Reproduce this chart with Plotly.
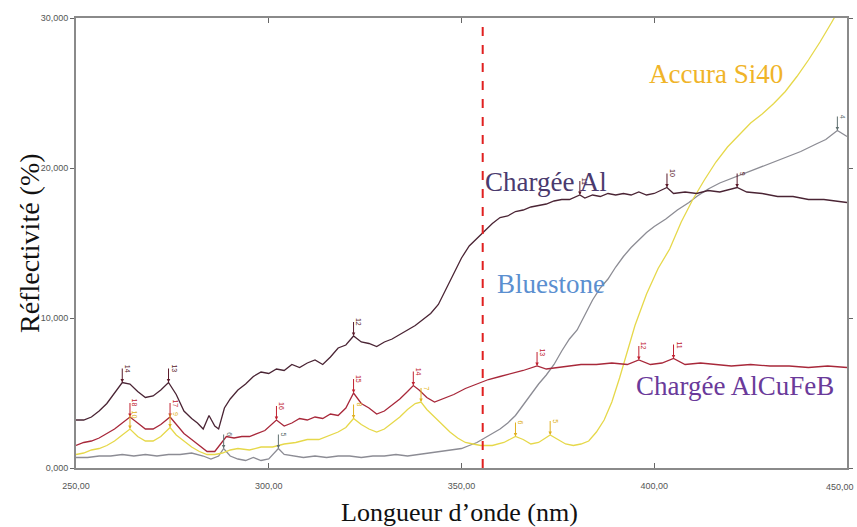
import numpy as np
import plotly.graph_objects as go

# ---------------- data ----------------
al_x = [250, 252, 254, 256, 258, 260, 262, 264, 266, 268, 270, 272, 274, 276, 278, 280, 281.5, 283, 284.5, 286, 287,
        288.5, 290, 292, 294, 296, 298, 300, 302, 304, 306, 308, 310, 312, 314, 316, 318, 320, 322, 324, 326, 328, 330,
        332, 334, 336, 338, 340, 342, 344, 346, 348, 350, 352, 354, 356, 358, 360, 362, 364, 366, 368, 370, 372, 374,
        376, 378, 380.7, 382, 384, 386, 388, 390, 392, 394, 396, 398, 400, 403.3, 405, 408, 411, 414, 417, 421.5, 424,
        428, 432, 436, 440, 444, 447, 450]
al_y = [3.2, 3.2, 3.4, 3.8, 4.3, 5.0, 5.7, 5.6, 5.1, 4.7, 4.8, 5.2, 5.7, 4.9, 3.8, 3.3, 3.0, 2.6, 3.5, 2.8, 2.6,
        4.0, 4.6, 5.2, 5.6, 6.1, 6.4, 6.3, 6.6, 6.5, 6.9, 6.7, 7.0, 7.2, 6.9, 7.4, 8.0, 8.2, 8.8, 8.4, 8.3, 8.1, 8.4,
        8.6, 8.9, 9.2, 9.5, 9.9, 10.3, 10.9, 11.9, 13.0, 14.0, 14.8, 15.3, 15.8, 16.3, 16.7, 16.8, 17.1, 17.2, 17.4,
        17.5, 17.6, 17.8, 17.9, 17.9, 18.2, 18.0, 18.2, 18.1, 18.3, 18.2, 18.3, 18.2, 18.4, 18.2, 18.3, 18.7, 18.3,
        18.4, 18.3, 18.5, 18.4, 18.7, 18.4, 18.3, 18.1, 18.1, 17.9, 17.9, 17.8, 17.7]

cu_x = [250, 252, 254, 256, 258, 260, 262, 264, 266, 268, 270, 272, 274.4, 276, 278, 280, 282, 284, 286, 287.5, 289,
        291, 293, 295, 297, 299, 302, 304, 306, 308, 310, 312, 314, 316, 318, 320, 322, 324, 326, 328, 330, 332, 334,
        336, 337.5, 339, 341, 343, 345, 348, 351, 354, 357, 360, 363, 366, 369.6, 372, 375, 378, 381, 385, 389, 393,
        396, 399, 402, 405, 408, 412, 416, 420, 425, 430, 435, 440, 445, 450]
cu_y = [1.5, 1.7, 1.8, 2.0, 2.3, 2.6, 3.0, 3.4, 3.0, 2.6, 2.6, 2.9, 3.4, 2.9, 2.3, 1.9, 1.5, 1.1, 1.1, 1.6, 2.1,
        2.0, 2.1, 2.1, 2.3, 2.5, 3.2, 2.8, 3.0, 3.3, 3.2, 3.4, 3.3, 3.6, 3.5, 4.0, 5.0, 4.3, 4.0, 3.6, 3.8, 4.2, 4.6,
        5.1, 5.5, 5.2, 4.7, 4.4, 4.6, 4.9, 5.3, 5.6, 5.9, 6.1, 6.3, 6.5, 6.8, 6.6, 6.7, 6.8, 6.9, 6.9, 7.0, 6.9,
        7.2, 6.9, 7.0, 7.3, 6.9, 7.0, 6.9, 6.8, 6.9, 6.8, 6.8, 6.7, 6.8, 6.7]

ac_x = [250, 252, 254, 256, 258, 260, 262, 264, 266, 268, 270, 272, 274.4, 276, 278, 280, 282, 284, 286, 288, 290,
        292, 295, 298, 301, 304, 307, 310, 313, 316, 318, 320, 322, 324, 326, 328, 330, 332, 334, 336, 338, 339.5,
        341, 343, 345, 347, 349, 351, 353, 355, 358, 361, 364, 366, 368, 370, 373, 375, 377, 379, 381, 383, 385, 387,
        389, 391, 393, 395, 398, 401, 404, 407, 410, 413, 416, 419, 422, 425, 428, 431, 434, 437, 440, 443, 446, 448]
ac_y = [0.9, 1.0, 1.2, 1.3, 1.5, 1.8, 2.2, 2.6, 2.1, 1.8, 1.8, 2.1, 2.7, 2.2, 1.8, 1.4, 1.1, 0.9, 0.9, 1.0, 1.2,
        1.3, 1.2, 1.4, 1.4, 1.6, 1.7, 1.9, 1.9, 2.2, 2.4, 2.7, 3.3, 2.9, 2.6, 2.4, 2.6, 3.0, 3.4, 3.9, 4.3, 4.4,
        3.9, 3.4, 2.9, 2.4, 2.0, 1.7, 1.6, 1.5, 1.5, 1.7, 2.1, 1.9, 1.6, 1.7, 2.2, 1.9, 1.6, 1.5, 1.6, 1.8, 2.4, 3.2,
        4.4, 6.0, 7.8, 9.5, 11.6, 13.3, 14.6, 16.4, 17.9, 19.2, 20.4, 21.4, 22.2, 23.0, 23.6, 24.3, 25.1, 26.1, 27.2,
        28.4, 29.7, 30.6]

bl_x = [250, 253, 256, 259, 262, 265, 268, 271, 274, 277, 280, 283, 285, 287, 288.3, 290, 292, 294, 296, 298, 300,
        302.5, 304, 306, 309, 312, 315, 318, 321, 324, 327, 330, 333, 336, 339, 342, 345, 348, 350, 352, 354, 356,
        358, 360, 362, 364, 366, 368, 370, 372, 374, 376, 378, 380, 382, 384, 386, 388, 390, 392, 394, 396, 398, 400,
        403, 406, 409, 411, 414, 417, 421, 425, 429, 434, 438, 442, 444.5, 447.5, 450]
bl_y = [0.7, 0.7, 0.8, 0.8, 0.9, 0.8, 0.9, 0.8, 0.9, 0.9, 1.0, 0.8, 0.6, 0.8, 1.3, 0.8, 0.6, 0.5, 0.7, 0.5, 0.6,
        1.3, 0.9, 0.8, 0.7, 0.8, 0.7, 0.8, 0.8, 0.7, 0.8, 0.8, 0.9, 0.8, 0.9, 1.0, 1.1, 1.2, 1.3, 1.5, 1.7, 2.0,
        2.3, 2.6, 3.0, 3.5, 4.2, 4.9, 5.6, 6.2, 6.9, 7.8, 8.6, 9.2, 10.2, 11.2, 12.0, 12.6, 13.4, 14.1, 14.7, 15.2,
        15.7, 16.1, 16.6, 17.2, 17.7, 18.1, 18.6, 19.0, 19.4, 19.8, 20.2, 20.7, 21.1, 21.6, 21.9, 22.5, 22.1]

dash_x = 355.5

# peak markers: (wavelength, label)
peaks_al = [(262, "14"), (274, "13"), (322, "12"), (380.7, "11"), (403.3, "10"), (421.5, "9")]
peaks_cu = [(264, "18"), (274.4, "17"), (302, "16"), (322, "15"), (337.5, "14"), (369.6, "13"), (396, "12"), (405, "11")]
peaks_ac = [(264, "10"), (274.4, "9"), (322, "8"), (339.5, "7"), (364, "6"), (373, "5")]
peaks_bl = [(288.3, "6"), (302.5, "5"), (447.5, "4")]

x_ticks = [250, 300, 350, 400, 450]
x_ticktext = ["250,00", "300,00", "350,00", "400,00", "450,00"]
y_ticks = [0, 10, 20, 30]
y_ticktext = ["0,000", "10,000", "20,000", "30,000"]

C_AL = "#4a2434"
C_CU = "#a8283a"
C_AC = "#e6d84a"
C_BL = "#8c8c94"
TICK_FONT = dict(size=9, color="#555", family="Liberation Sans")

fig = go.Figure()
for xs, ys, col, name in [(bl_x, bl_y, C_BL, "Bluestone"), (ac_x, ac_y, C_AC, "Accura Si40"),
                          (cu_x, cu_y, C_CU, "Chargée AlCuFeB"), (al_x, al_y, C_AL, "Chargée Al")]:
    fig.add_trace(go.Scatter(x=xs, y=ys, mode="lines", line=dict(color=col, width=1.3), name=name,
                             showlegend=False, hoverinfo="skip"))

fig.add_shape(type="line", x0=dash_x, x1=dash_x, y0=0, y1=1, xref="x", yref="paper",
              line=dict(color="#e02020", width=2, dash="dash"))

anns = []
def add_peaks(peaks, xs, ys, col):
    for px, lab in peaks:
        py = float(np.interp(px, xs, ys))
        anns.append(dict(x=px, y=py, xref="x", yref="y", text=lab, textangle=90, showarrow=True,
                         ax=0, ay=-14, arrowhead=2, arrowsize=0.7, arrowwidth=1, arrowcolor=col,
                         font=dict(size=7, color=col, family="Liberation Sans"), yanchor="bottom"))

add_peaks(peaks_al, al_x, al_y, "#5a1a2a")
add_peaks(peaks_cu, cu_x, cu_y, "#c02030")
add_peaks(peaks_ac, ac_x, ac_y, "#e0b020")
add_peaks(peaks_bl, bl_x, bl_y, "#607070")

labels = [("Chargée Al", 371.9, 19.1, "#4a3a6e"), ("Bluestone", 373.3, 12.3, "#5b8fd0"),
          ("Accura Si40", 416.0, 26.3, "#f0b428"), ("Chargée AlCuFeB", 421, 5.5, "#6a3a9a")]
for t, x, y, c in labels:
    anns.append(dict(x=x, y=y, xref="x", yref="y", text=t, showarrow=False,
                     font=dict(size=27, color=c, family="Liberation Serif")))

# last x tick label, kept inside the page
anns.append(dict(x=x_ticks[-1], y=0, xref="x", yref="paper", text=x_ticktext[-1], showarrow=False,
                 xanchor="right", yanchor="middle", xshift=9, yshift=-19, font=TICK_FONT))

# axis titles
anns.append(dict(x=0, y=0.5, xref="paper", yref="paper", xshift=-47, xanchor="center", yanchor="middle",
                 text="Réflectivité (%)", textangle=-90,
                 showarrow=False, font=dict(size=28, color="#111", family="Liberation Serif")))
anns.append(dict(x=0.498, y=0, xref="paper", yref="paper", yshift=-44, xanchor="center", yanchor="middle",
                 text="Longueur d’onde (nm)",
                 showarrow=False, font=dict(size=26, color="#111", family="Liberation Serif")))

fig.update_layout(
    width=857, height=527,
    margin=dict(l=76, r=10, t=18, b=59),
    paper_bgcolor="white", plot_bgcolor="white",
    annotations=anns,
    showlegend=False,
    xaxis=dict(range=[250, 450], tickvals=x_ticks[:-1], ticktext=x_ticktext[:-1], showgrid=False, zeroline=False,
               automargin=False, ticklabelstandoff=8,
               showline=True, linecolor="#8a8a8a", linewidth=2, mirror="ticks", ticks="inside", ticklen=5,
               tickcolor="#666", tickfont=TICK_FONT),
    yaxis=dict(range=[0, 30], tickvals=y_ticks, ticktext=y_ticktext, showgrid=False, zeroline=False,
               automargin=False,
               showline=True, linecolor="#8a8a8a", linewidth=2, mirror="ticks", ticks="outside", ticklen=4,
               tickcolor="#666", tickfont=TICK_FONT),
)

fig.write_html("out.html", config={"displayModeBar": False},
               post_script="document.body.style.margin='0px';document.body.style.overflow='hidden';")
